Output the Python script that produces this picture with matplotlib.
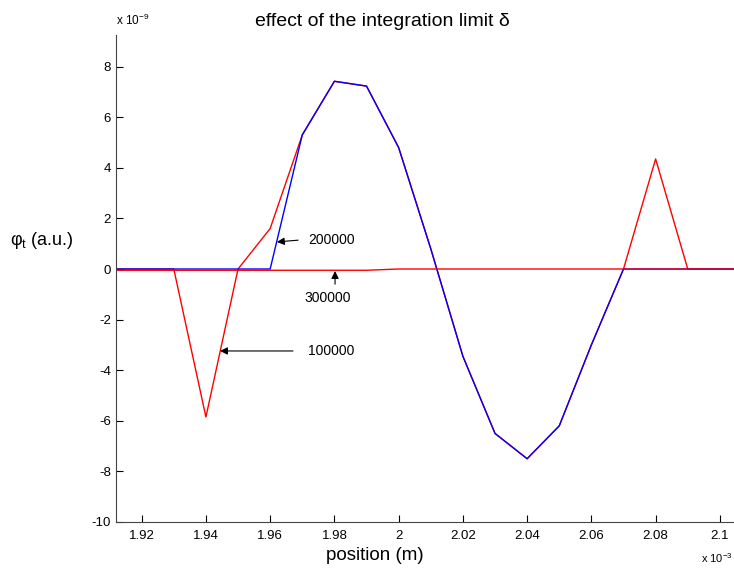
import matplotlib

matplotlib.use('Agg')
import matplotlib.pyplot as plt

plt.rcParams['font.family'] = ['Liberation Sans', 'DejaVu Sans']
plt.rcParams['axes.unicode_minus'] = False

# position in units of 1e-3 m, phi_t in units of 1e-9
x = [1.90, 1.91, 1.92, 1.93, 1.94, 1.95, 1.96, 1.97, 1.98, 1.99, 2.00, 2.01,
     2.02, 2.03, 2.04, 2.05, 2.06, 2.07, 2.08, 2.09, 2.10, 2.11]
phi_100000 = [0, 0, 0, 0, -5.85, 0, 1.6, 5.3, 7.42, 7.23, 4.8, 0.8,
              -3.45, -6.5, -7.5, -6.2, -3.0, 0, 4.35, 0, 0, 0]
phi_200000 = [0, 0, 0, 0, 0, 0, 0, 5.3, 7.42, 7.23, 4.8, 0.8,
              -3.45, -6.5, -7.5, -6.2, -3.0, 0, 0, 0, 0, 0]
phi_300000 = [-0.05, -0.05, -0.05, -0.05, -0.05, -0.05, -0.05, -0.05, -0.05, -0.05, 0, 0,
              0, 0, 0, 0, 0, 0, 0, 0, 0, 0]

xticks = [1.92, 1.94, 1.96, 1.98, 2.0, 2.02, 2.04, 2.06, 2.08, 2.1]
xtick_labels = ['1.92', '1.94', '1.96', '1.98', '2', '2.02', '2.04', '2.06', '2.08', '2.1']
yticks = [-10, -8, -6, -4, -2, 0, 2, 4, 6, 8]

fig = plt.figure(figsize=(7.34, 5.68), dpi=100)
ax = fig.add_axes([0.158, 0.081, 0.842, 0.8574])

ax.plot(x, phi_100000, color='#ff0000', lw=1)
ax.plot(x, phi_200000, color='#0000ff', lw=1)
ax.plot(x, phi_300000, color='#ff0000', lw=1)

ax.set_xlim(1.912, 2.1044)
ax.set_ylim(-10, 9.25)
ax.set_xticks(xticks)
ax.set_xticklabels(xtick_labels)
ax.set_yticks(yticks)
ax.tick_params(direction='in', length=5, labelsize=9.5, width=0.8)
ax.tick_params(axis='x', pad=6)
for s in ['top', 'right']:
    ax.spines[s].set_visible(False)
for s in ['left', 'bottom']:
    ax.spines[s].set_color('#444444')

fig.text(382 / 734, 1 - 22 / 568, 'effect of the integration limit δ', fontsize=14,
         ha='center', va='center')
fig.text(375 / 734, 1 - 556 / 568, 'position (m)', fontsize=13.5, ha='center', va='center')
fig.text(0.013, 1 - 241 / 568, r'φ$_\mathregular{t}$ (a.u.)', fontsize=13, ha='left', va='center')
fig.text(0.158, 0.951, r'x 10$^\mathregular{-9}$', fontsize=8.5, ha='left', va='bottom')
fig.text(0.955, 0.006, r'x 10$^\mathregular{-3}$', fontsize=8, ha='left', va='bottom')

arrow = dict(arrowstyle='-|>', color='black', lw=0.8, mutation_scale=11,
             shrinkA=0, shrinkB=0)
ax.annotate('', xy=(1.9621, 1.07), xytext=(1.9687, 1.14), arrowprops=arrow)
ax.text(1.9718, 1.14, '200000', fontsize=10, ha='left', va='center')
ax.annotate('', xy=(1.9802, -0.08), xytext=(1.9802, -0.6), arrowprops=arrow)
ax.text(1.9780, -1.15, '300000', fontsize=10, ha='center', va='center')
ax.annotate('', xy=(1.9444, -3.24), xytext=(1.9671, -3.24), arrowprops=arrow)
ax.text(1.9718, -3.24, '100000', fontsize=10, ha='left', va='center')

fig.savefig('out.png', dpi=100)
